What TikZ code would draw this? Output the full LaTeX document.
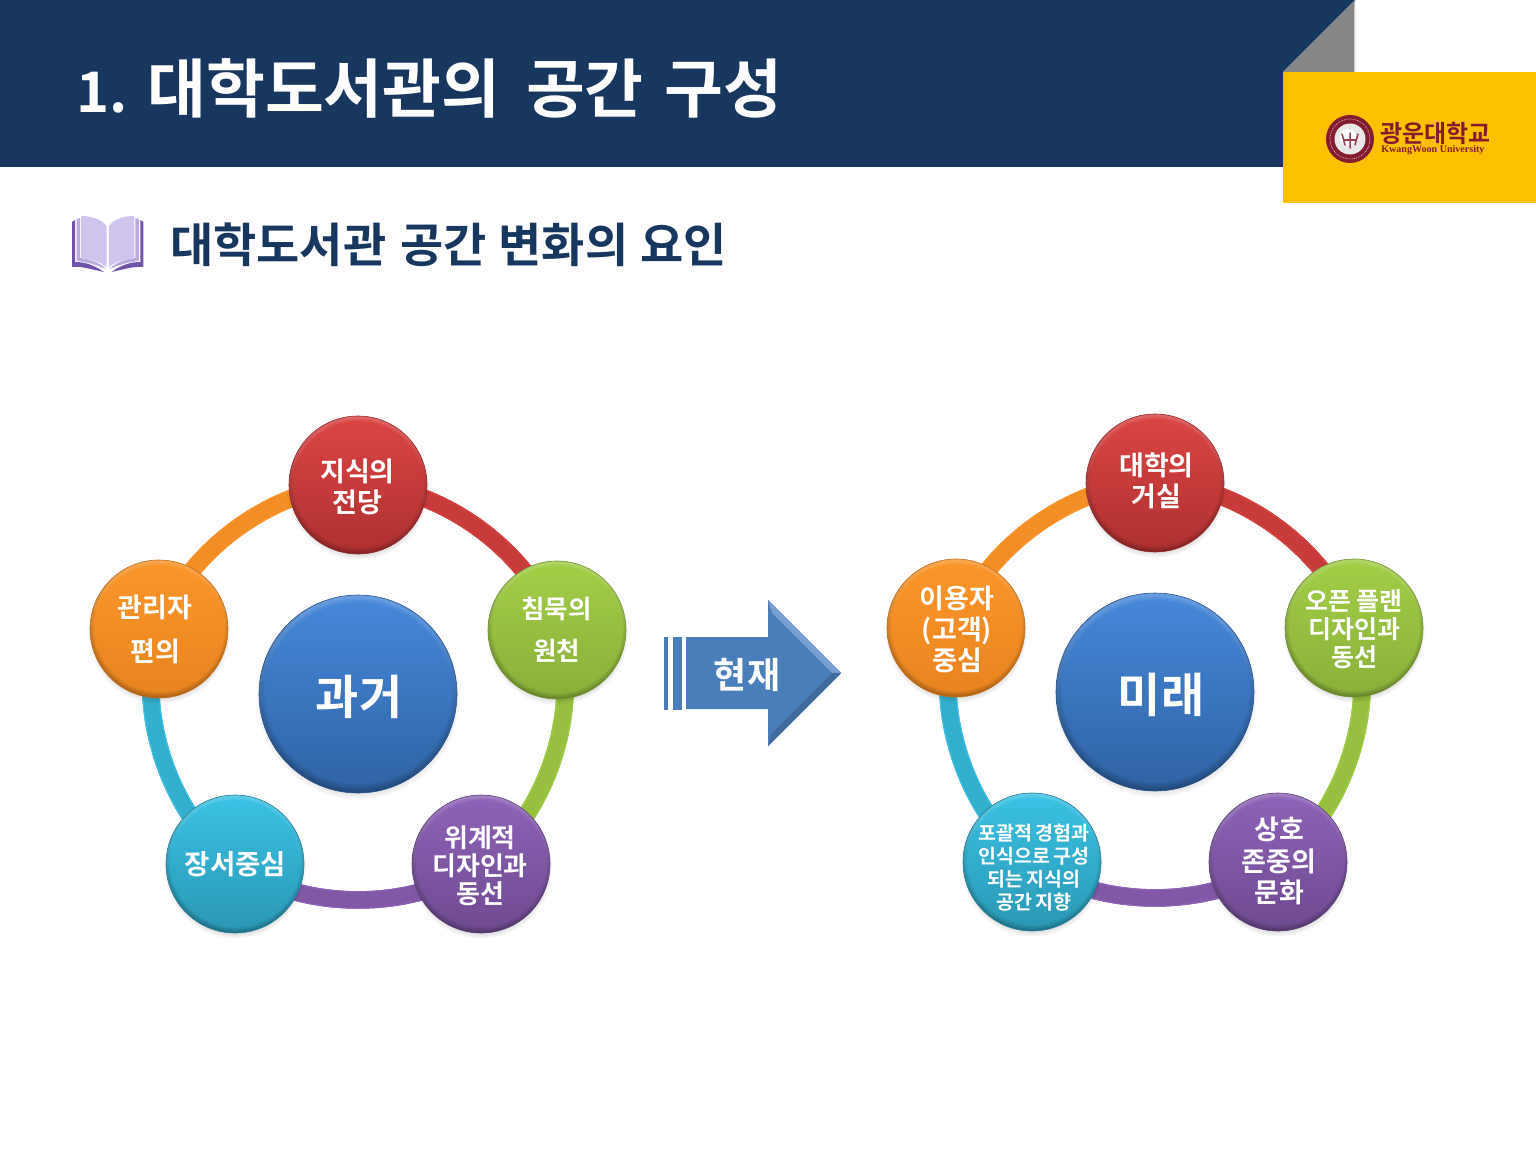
\documentclass[tikz,border=0pt]{standalone}
\usepackage{fontspec}
\setmainfont{Noto Sans CJK KR}[BoldFont={Noto Sans CJK KR Bold}]
\newfontfamily\latinserif{Liberation Serif}
\usetikzlibrary{shadows,fadings,backgrounds,calc}

% font size and leading given in drawing units (1 unit = .03cm)
\newcommand\pxf[2]{\fontsize{\the\dimexpr#1pt*8535/10000\relax}{\the\dimexpr#2pt*8535/10000\relax}\selectfont\bfseries}

% soft-edged disc for drop shadows and bevel crescents for the balls
\pgfdeclareradialshading{softdiscshade}{\pgfpoint{0bp}{0bp}}{rgb(0bp)=(1,1,1); rgb(20bp)=(1,1,1); rgb(25bp)=(0,0,0); rgb(50bp)=(0,0,0)}
\pgfdeclarefading{softdisc}{\pgfuseshading{softdiscshade}}
\pgfdeclareradialshading{crescentupshade}{\pgfpoint{0bp}{-2bp}}{rgb(0bp)=(0,0,0); rgb(24bp)=(0,0,0); rgb(27bp)=(1,1,1); rgb(50bp)=(1,1,1)}
\pgfdeclarefading{crescentup}{\pgfuseshading{crescentupshade}}
\pgfdeclareradialshading{crescentdownshade}{\pgfpoint{0bp}{2bp}}{rgb(0bp)=(0,0,0); rgb(23.5bp)=(0,0,0); rgb(27bp)=(1,1,1); rgb(50bp)=(1,1,1)}
\pgfdeclarefading{crescentdown}{\pgfuseshading{crescentdownshade}}

\definecolor{navy}{HTML}{17375E}
\definecolor{crimsonT}{HTML}{DB4544}\definecolor{crimsonB}{HTML}{AE3030}
\definecolor{greenT}{HTML}{A2CE46}\definecolor{greenB}{HTML}{8AAF3A}
\definecolor{orangeT}{HTML}{FA962A}\definecolor{orangeB}{HTML}{E8841F}
\definecolor{cyanT}{HTML}{3AC2E4}\definecolor{cyanB}{HTML}{2A97B4}
\definecolor{purpleT}{HTML}{8E63B8}\definecolor{purpleB}{HTML}{6E4A90}
\definecolor{blueT}{HTML}{4688DA}\definecolor{blueB}{HTML}{2F63A4}
\definecolor{sealred}{HTML}{851B2E}
\definecolor{arrowblue}{HTML}{4A7EBB}
\definecolor{logoplate}{HTML}{FFC000}

\tikzset{
  x=.03cm,y=-.03cm,
  ball/.style 2 args={circle,inner sep=0pt,
    top color=#1,bottom color=#2,draw=#2!85!black,line width=.5pt,
    general shadow={shadow xshift=0pt,shadow yshift=-3pt,shadow scale=1.03,fill=black,opacity=.3,path fading=softdisc},
    path picture={
      \fill[white,opacity=.38,path fading=crescentup] (path picture bounding box.south west) rectangle (path picture bounding box.north east);
      \fill[black,opacity=.45,path fading=crescentdown] (path picture bounding box.south west) rectangle (path picture bounding box.north east);
    }},
  small ball/.style={minimum size=4.14cm},
  hub/.style={minimum size=5.94cm},
  balltext/.style={text=white,align=center,inner sep=0pt},
}

% one ring segment between two balls, lit from above
\newcommand\ringseg[4]{%
  \draw[#4,line width=15pt,yshift=-1.4pt] (#1.center) to[bend left=36,looseness=.85] (#2.center);
  \draw[#3,line width=15pt,yshift=1.4pt] (#1.center) to[bend left=36,looseness=.85] (#2.center);
  \draw[#3!55!#4,line width=13pt] (#1.center) to[bend left=36,looseness=.85] (#2.center);
}

\begin{document}
\begin{tikzpicture}
\useasboundingbox (0,0) rectangle (1536,1152);

% header band, folded corner and logo plate
\fill[navy] (0,0) -- (1355,0) -- (1283,72) -- (1283,167) -- (0,167) -- cycle;
\fill[gray!95!white] (1355,0) -- (1283,72) -- (1355,72) -- cycle;
\fill[gray!40] (1353.5,2) rectangle (1355,72);
\fill[logoplate] (1283,72) rectangle (1536,203);

% university seal
\fill[sealred] (1350,139) circle (24);
\draw[white!75!sealred,line width=.5pt,dash pattern=on .8pt off .8pt] (1350,139) circle (20);
\fill[white!82!gray] (1350,139) circle (15.5);
\fill[white] (1348,137) circle (8);
\draw[sealred!85,line width=1.3pt,line cap=round] (1342,134) -- (1345,145) (1358,134) -- (1355,145) (1350,133) -- (1350,148) (1344,140) -- (1356,140);
\node[text=sealred,font=\pxf{24}{24},anchor=west,inner sep=0pt] (logoko) at (1380,133) {광운대학교};
\node[text=sealred,font=\fontsize{8.6pt}{9pt}\latinserif\bfseries,anchor=west,inner sep=0pt] (logoen) at (1381,150) {KwangWoon University};

% headings
\node[text=white,font=\pxf{64}{64},anchor=west,inner sep=0pt] (title) at (76,88) {{\pxf{56}{64}1.}\hspace{.31em}대학도서관의\hspace{.4em}공간\hspace{.33em}구성};
\node[text=navy,font=\pxf{47}{47},anchor=west,inner sep=0pt] (subtitle) at (170,245) {대학도서관\hspace{.29em}공간\hspace{.26em}변화의\hspace{.26em}요인};

% open book bullet
\foreach \m/\o in {1/0,-1/-215.4}{
  \begin{scope}[x=\m*.03cm]
    \fill[fill={rgb,255:red,112;green,84;blue,172}] (\o+72,222) -- (\o+75,220) -- (\o+75,262) .. controls (\o+85,262) and (\o+94,265) .. (\o+104,272) .. controls (\o+94,270) and (\o+82,266) .. (\o+72,267) -- cycle;
    \fill[fill={rgb,255:red,186;green,170;blue,224}] (\o+76.5,219) -- (\o+80,218) -- (\o+80,258) .. controls (\o+90,259) and (\o+99,262) .. (\o+106,269) .. controls (\o+97,265) and (\o+87,262) .. (\o+76.5,261) -- cycle;
    \fill[fill={rgb,255:red,206;green,196;blue,236}] (\o+81,216) .. controls (\o+92,216) and (\o+101,219) .. (\o+106.5,226) -- (\o+106.5,267) .. controls (\o+100,262) and (\o+92,259) .. (\o+81,258) -- cycle;
  \end{scope}
}

% left cycle
\node[ball={blueT}{blueB},hub] (pastcore) at (358,694) {};
\node[ball={crimsonT}{crimsonB},small ball] (p1) at (358,485) {};
\node[ball={greenT}{greenB},small ball] (p2) at (557,630) {};
\node[ball={purpleT}{purpleB},small ball] (p3) at (481,864) {};
\node[ball={cyanT}{cyanB},small ball] (p4) at (235,864) {};
\node[ball={orangeT}{orangeB},small ball] (p5) at (159,629) {};
\node[balltext,font=\pxf{47}{50}] (pastcoret) at (359,697) {과거};
\node[balltext,font=\pxf{27}{31}] (p1t) at (357.5,487) {지식의\\전당};
\node[balltext,font=\pxf{25.5}{42}] (p2t) at (556.5,630) {침묵의\\원천};
\node[balltext,font=\pxf{26}{28}] (p3t) at (480,866) {위계적\\디자인과\\동선};
\node[balltext,font=\pxf{27.5}{31}] (p4t) at (235.5,864) {장서중심};
\node[balltext,font=\pxf{27}{44}] (p5t) at (155,629.5) {관리자\\편의};

% transition arrow
\fill[arrowblue] (664,637) rectangle (668,710);
\fill[arrowblue] (673,637) rectangle (682,710);
\fill[arrowblue] (686,637) -- (768,637) -- (768,600) -- (841,673) -- (768,746) -- (768,709) -- (686,709) -- cycle;
\fill[arrowblue!75!white] (768,600) -- (841,673) -- (832,673) -- (772,613) -- cycle;
\fill[arrowblue!85!black] (768,746) -- (841,673) -- (832,673) -- (772,733) -- cycle;
\node[text=white,font=\pxf{36}{36},inner sep=0pt] (nowlabel) at (747,675) {현재};

% right cycle
\node[ball={blueT}{blueB},hub] (futcore) at (1155,692) {};
\node[ball={crimsonT}{crimsonB},small ball] (f1) at (1155,483) {};
\node[ball={greenT}{greenB},small ball] (f2) at (1354,628) {};
\node[ball={purpleT}{purpleB},small ball] (f3) at (1278,862) {};
\node[ball={cyanT}{cyanB},small ball] (f4) at (1032,862) {};
\node[ball={orangeT}{orangeB},small ball] (f5) at (956,628) {};
\node[balltext,font=\pxf{47}{50}] (futcoret) at (1161,695) {미래};
\node[balltext,font=\pxf{27}{31}] (f1t) at (1156.5,481) {대학의\\거실};
\node[balltext,font=\pxf{25}{28}] (f2t) at (1354,629.5) {오픈\hspace{.2em}플랜\\디자인과\\동선};
\node[balltext,font=\pxf{27}{31.5}] (f3t) at (1279,861) {상호\\존중의\\문화};
\node[balltext,font=\pxf{19.5}{23}] (f4t) at (1034,868) {포괄적\hspace{.2em}경험과\\인식으로\hspace{.2em}구성\\되는\hspace{.2em}지식의\\공간\hspace{.2em}지향};
\node[balltext,font=\pxf{27}{31}] (f5t) at (957,629) {이용자\\(고객)\\중심};

% ring segments sit behind the balls
\begin{pgfonlayer}{background}
  \ringseg{p1}{p2}{crimsonT}{crimsonB}
  \ringseg{p2}{p3}{greenT}{greenB}
  \ringseg{p3}{p4}{purpleT}{purpleB}
  \ringseg{p4}{p5}{cyanT}{cyanB}
  \ringseg{p5}{p1}{orangeT}{orangeB}
  \ringseg{f1}{f2}{crimsonT}{crimsonB}
  \ringseg{f2}{f3}{greenT}{greenB}
  \ringseg{f3}{f4}{purpleT}{purpleB}
  \ringseg{f4}{f5}{cyanT}{cyanB}
  \ringseg{f5}{f1}{orangeT}{orangeB}
\end{pgfonlayer}
\end{tikzpicture}
\end{document}
